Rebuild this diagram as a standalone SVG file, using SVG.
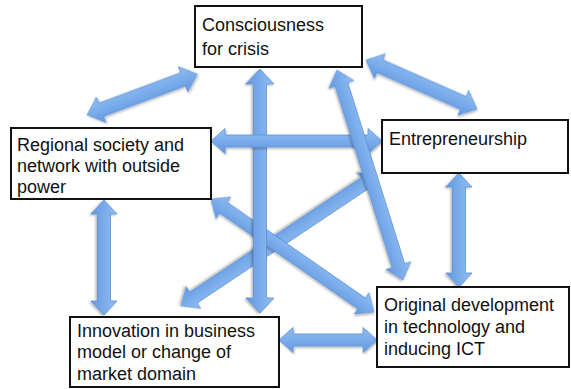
<svg xmlns="http://www.w3.org/2000/svg" width="571" height="389" viewBox="0 0 571 389">
  <defs>
    <linearGradient id="arrowFill" x1="0" y1="0" x2="0" y2="1">
      <stop offset="0" stop-color="#92bdf1"/>
      <stop offset="0.5" stop-color="#7aaceb"/>
      <stop offset="1" stop-color="#6297df"/>
    </linearGradient>
    <filter id="softShadow" x="-20%" y="-20%" width="140%" height="140%">
      <feDropShadow dx="1" dy="1.5" stdDeviation="1.2" flood-color="#000" flood-opacity="0.3"/>
    </filter>
    <style>
      .box { fill: #fff; stroke: #111; stroke-width: 2; }
      .label { font-family: "Liberation Sans", Arial, sans-serif; font-size: 18px; fill: #111; }
      .arrow { fill: url(#arrowFill); stroke: #5f93d6; stroke-width: 0.8; filter: url(#softShadow); }
    </style>
  </defs>

  <!-- double-headed block arrows, drawn along +x in local coordinates -->
  <g id="connectors">
    <!-- Entrepreneurship <-> Innovation -->
    <g transform="translate(377,175) rotate(146.25)">
      <polygon class="arrow" points="0,0 15,-13 15,-6.5 220.7,-6.5 220.7,-13 235.7,0 220.7,13 220.7,6.5 15,6.5 15,13"/>
    </g>
    <!-- Regional <-> Original development -->
    <g transform="translate(211,199) rotate(34.73)">
      <polygon class="arrow" points="0,0 15,-13 15,-6.5 183.3,-6.5 183.3,-13 198.3,0 183.3,13 183.3,6.5 15,6.5 15,13"/>
    </g>
    <!-- Consciousness <-> Innovation -->
    <g transform="translate(260,69) rotate(90)">
      <polygon class="arrow" points="0,0 15,-14 15,-6.5 229,-6.5 229,-14 244,0 229,14 229,6.5 15,6.5 15,14"/>
    </g>
    <!-- Regional <-> Entrepreneurship -->
    <g transform="translate(211,141)">
      <polygon class="arrow" points="0,0 14,-12.5 14,-6 157,-6 157,-12.5 171,0 157,12.5 157,6 14,6 14,12.5"/>
    </g>
    <!-- Consciousness <-> Original development -->
    <g transform="translate(337,70) rotate(72.55)">
      <polygon class="arrow" points="0,0 15,-13 15,-6.5 205.1,-6.5 205.1,-13 220.1,0 205.1,13 205.1,6.5 15,6.5 15,13"/>
    </g>
    <!-- Consciousness <-> Regional -->
    <g transform="translate(87,115) rotate(-20.4)">
      <polygon class="arrow" points="0,0 15,-13.5 15,-7 102.5,-7 102.5,-13.5 117.5,0 102.5,13.5 102.5,7 15,7 15,13.5"/>
    </g>
    <!-- Consciousness <-> Entrepreneurship -->
    <g transform="translate(366,60) rotate(23.8)">
      <polygon class="arrow" points="0,0 15,-13.5 15,-7 106.3,-7 106.3,-13.5 121.3,0 106.3,13.5 106.3,7 15,7 15,13.5"/>
    </g>
    <!-- Entrepreneurship <-> Original development -->
    <g transform="translate(459,173) rotate(90)">
      <polygon class="arrow" points="0,0 14,-13 14,-6.5 100,-6.5 100,-13 114,0 100,13 100,6.5 14,6.5 14,13"/>
    </g>
    <!-- Regional <-> Innovation -->
    <g transform="translate(104,200) rotate(90)">
      <polygon class="arrow" points="0,0 14,-13 14,-6.5 101,-6.5 101,-13 115,0 101,13 101,6.5 14,6.5 14,13"/>
    </g>
    <!-- Innovation <-> Original development -->
    <g transform="translate(279,340)">
      <polygon class="arrow" points="0,0 14,-12.5 14,-6 84,-6 84,-12.5 98,0 84,12.5 84,6 14,6 14,12.5"/>
    </g>
  </g>

  <g id="consciousness">
    <rect class="box" x="195" y="6" width="167" height="61"/>
    <text class="label" x="202" y="31">Consciousness</text>
    <text class="label" x="202" y="55">for crisis</text>
  </g>

  <g id="regional">
    <rect class="box" x="11" y="128" width="200" height="71"/>
    <text class="label" x="17" y="151">Regional society and</text>
    <text class="label" x="17" y="172">network with outside</text>
    <text class="label" x="17" y="193">power</text>
  </g>

  <g id="entrepreneurship">
    <rect class="box" x="382" y="120" width="186" height="53"/>
    <text class="label" x="389" y="145">Entrepreneurship</text>
  </g>

  <g id="original">
    <rect class="box" x="377" y="287" width="192" height="80"/>
    <text class="label" x="384" y="311">Original development</text>
    <text class="label" x="384" y="333">in technology and</text>
    <text class="label" x="384" y="355">inducing ICT</text>
  </g>

  <g id="innovation">
    <rect class="box" x="70" y="317" width="209" height="70"/>
    <text class="label" x="77" y="337">Innovation in business</text>
    <text class="label" x="77" y="358">model or change of</text>
    <text class="label" x="77" y="380">market domain</text>
  </g>
</svg>
